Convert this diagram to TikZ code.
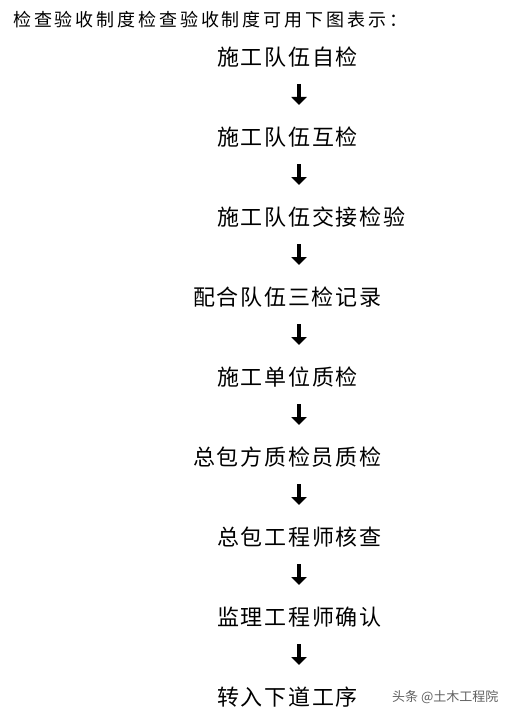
\documentclass[tikz,border=0pt]{standalone}
\usepackage{fontspec}
\usetikzlibrary{arrows.meta}
\newfontfamily\cjkstep[LetterSpace=8]{Noto Sans CJK SC}
\newfontfamily\cjkhead[LetterSpace=16]{Noto Sans CJK SC}
\newfontfamily\cjkmark{Noto Sans CJK SC}
\begin{document}
\begin{tikzpicture}[x=1bp,y=-1bp,
  stepbox/.style={anchor=west,inner sep=0pt,text=black,font=\cjkstep\fontsize{22bp}{26bp}\selectfont},
  headbox/.style={anchor=west,inner sep=0pt,text=black,font=\cjkhead\fontsize{18bp}{22bp}\selectfont},
  markbox/.style={anchor=west,inner sep=0pt,text=black!62,font=\cjkmark\fontsize{13bp}{15bp}\selectfont},
  arr/.style={-{Triangle[width=15bp,length=8bp]},line width=3.2bp,shorten <=27bp,shorten >=32bp}]
\useasboundingbox[fill=white] (0,0) rectangle (510,717);
\node[headbox] (head) at (13,20) {检查验收制度检查验收制度可用下图表示：};
\coordinate (ax) at (299,0);
\node[stepbox] (s1) at (217,57) {施工队伍自检};
\node[stepbox] (s2) at (217,137) {施工队伍互检};
\node[stepbox] (s3) at (217,217) {施工队伍交接检验};
\node[stepbox] (s4) at (193,297) {配合队伍三检记录};
\node[stepbox] (s5) at (217,377) {施工单位质检};
\node[stepbox] (s6) at (193,457) {总包方质检员质检};
\node[stepbox] (s7) at (217,537) {总包工程师核查};
\node[stepbox] (s8) at (217,617) {监理工程师确认};
\node[stepbox] (s9) at (217,697) {转入下道工序};
\foreach \a/\b in {s1/s2,s2/s3,s3/s4,s4/s5,s5/s6,s6/s7,s7/s8,s8/s9}
  \draw[arr] (\a.west -| ax) -- (\b.west -| ax);
\node[markbox] (mark) at (392,697) {头条 @土木工程院};
\end{tikzpicture}
\end{document}
